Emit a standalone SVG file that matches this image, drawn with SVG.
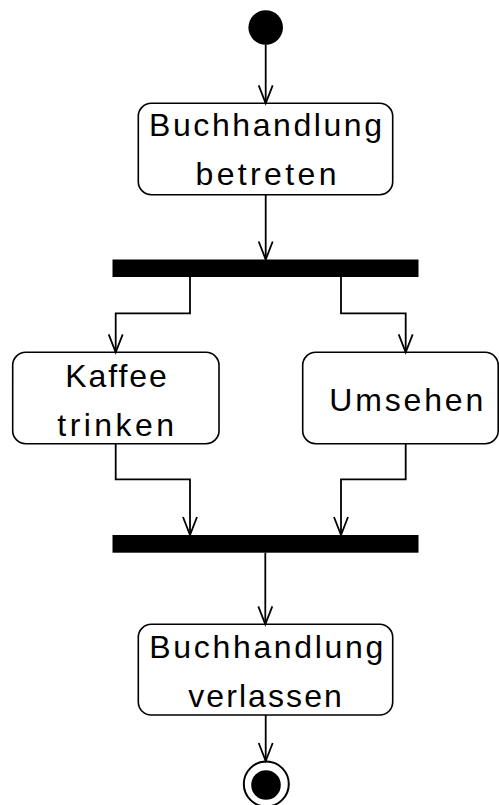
<svg xmlns="http://www.w3.org/2000/svg" width="499" height="805" viewBox="0 0 499 805">
<defs>
<style>
.node{fill:#fff;stroke:#000;stroke-width:1.6}
.bar{fill:#000}
.lbl{font-family:"Liberation Sans",Arial,sans-serif;font-size:32px;fill:#000;text-anchor:middle}
.edge{fill:none;stroke:#000;stroke-width:1.8}
</style>
<marker id="arr" markerUnits="userSpaceOnUse" viewBox="-20 -10 22 20" markerWidth="22" markerHeight="20" refX="0" refY="0" orient="auto" overflow="visible">
<path d="M-18,-7 L0,0 L-18,7" fill="none" stroke="#000" stroke-width="1.8"/>
</marker>
</defs>
<g id="start"><circle cx="265.7" cy="27.5" r="17.3" fill="#000"/></g>
<g id="betreten">
<rect class="node" x="138.3" y="103.3" width="254.4" height="91.4" rx="13"/>
<text class="lbl" x="265.5" y="136" textLength="233" lengthAdjust="spacing">Buchhandlung</text>
<text class="lbl" x="266" y="185" textLength="141" lengthAdjust="spacing">betreten</text>
</g>
<g id="fork"><rect class="bar" x="112.5" y="259.5" width="306" height="17.5"/></g>
<g id="kaffee">
<rect class="node" x="12.7" y="352.3" width="206.3" height="91.4" rx="13"/>
<text class="lbl" x="116" y="386.7" textLength="101.7" lengthAdjust="spacing">Kaffee</text>
<text class="lbl" x="115.7" y="435.7" textLength="116.7" lengthAdjust="spacing">trinken</text>
</g>
<g id="umsehen">
<rect class="node" x="302.7" y="352.3" width="195.5" height="91.4" rx="13"/>
<text class="lbl" x="406.3" y="411" textLength="154" lengthAdjust="spacing">Umsehen</text>
</g>
<g id="join"><rect class="bar" x="112.5" y="535" width="306" height="17.7"/></g>
<g id="verlassen">
<rect class="node" x="138.3" y="624.3" width="254.4" height="90.7" rx="13"/>
<text class="lbl" x="266.3" y="657.7" textLength="234" lengthAdjust="spacing">Buchhandlung</text>
<text class="lbl" x="265" y="706.7" textLength="153.7" lengthAdjust="spacing">verlassen</text>
</g>
<g id="end">
<circle cx="266.3" cy="784" r="22.5" fill="#fff" stroke="#000" stroke-width="2"/>
<circle cx="266" cy="785" r="14.8" fill="#000"/>
</g>
<g id="connectors">
<path class="edge" marker-end="url(#arr)" d="M265.7,44.5 V103.3"/>
<path class="edge" marker-end="url(#arr)" d="M265.7,194.7 V259.5"/>
<path class="edge" marker-end="url(#arr)" d="M190,277 V313.3 H115.7 V352.3"/>
<path class="edge" marker-end="url(#arr)" d="M341,277 V313.3 H405.7 V352.3"/>
<path class="edge" marker-end="url(#arr)" d="M115.7,443.7 V479.3 H190 V535"/>
<path class="edge" marker-end="url(#arr)" d="M405.7,443.7 V479.3 H341 V535"/>
<path class="edge" marker-end="url(#arr)" d="M265.3,552.7 V624.3"/>
<path class="edge" marker-end="url(#arr)" d="M265.7,715 V761"/>
</g>
</svg>
